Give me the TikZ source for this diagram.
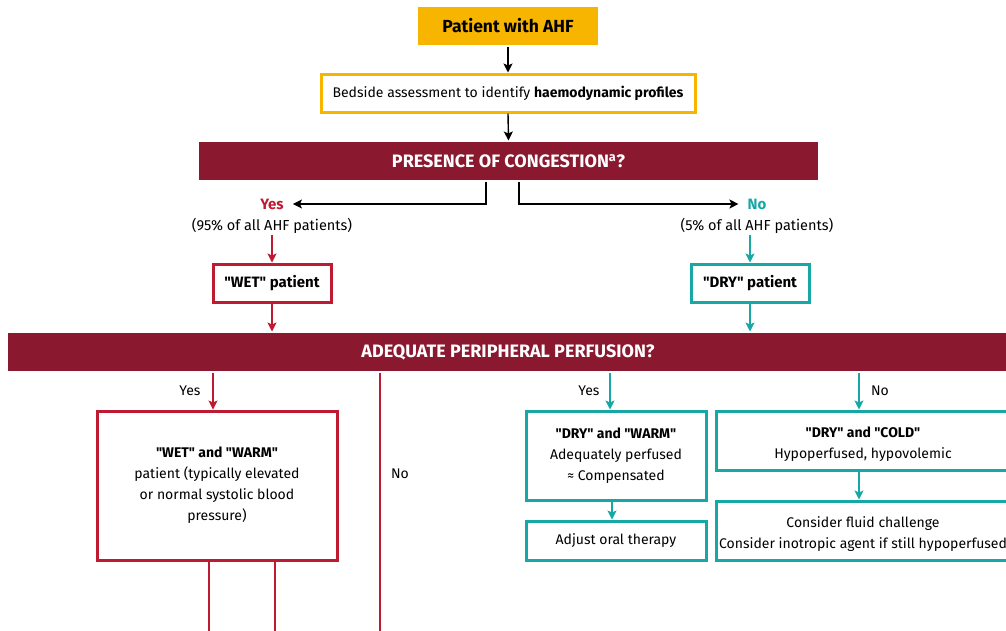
\documentclass[tikz,border=0pt]{standalone}
\usepackage{fontspec}
\setmainfont{Fira Sans}
\usetikzlibrary{arrows.meta}
\definecolor{ahfyellow}{HTML}{F7B500}
\definecolor{barred}{HTML}{8A1930}
\definecolor{wetred}{HTML}{BE1B33}
\definecolor{dryteal}{HTML}{17A8A5}
\newcommand{\dq}{\textquotedbl}
\newcommand{\topstrut}{\rule{0pt}{17pt}}
\tikzset{
  txt/.style={font=\fontsize{14}{21}\selectfont, inner sep=0pt, align=center, text=black},
  boxbase/.style={txt, line width=3pt},
  yfill/.style={boxbase, fill=ahfyellow, font=\fontsize{17.5}{21}\selectfont\bfseries},
  ybox/.style={boxbase, draw=ahfyellow},
  bar/.style={boxbase, fill=barred, text=white, font=\fontsize{18}{21}\selectfont\bfseries},
  rbox/.style={boxbase, draw=wetred},
  tbox/.style={boxbase, draw=dryteal},
  lbl/.style={txt, inner sep=1pt},
  arr/.style={-{Stealth[length=9,width=9,inset=2]}, line width=1.4pt},
  rline/.style={line width=1.4pt, draw=wetred},
}
\begin{document}
\begin{tikzpicture}[x=1pt,y=-1pt]
\useasboundingbox (0,0) rectangle (1006,630);
% top
\node[yfill, minimum width=180, minimum height=38] (start) at (508,26) {Patient with AHF};
\node[ybox, minimum width=374, minimum height=38] (bed) at (508,93) {Bedside assessment to identify \textbf{haemodynamic profiles}};
\node[bar, minimum width=619, minimum height=38] (cong) at (508.5,161) {PRESENCE OF CONGESTION\textsuperscript{a}?};
\draw[arr] (start.south) -- (bed.north);
\draw[arr] (bed.south) -- (cong.north);
% yes / no branches
\node[lbl, text=wetred, font=\fontsize{15}{21}\selectfont\bfseries, inner xsep=9pt] (yes1) at (272,204) {Yes};
\node[lbl, font=\fontsize{14.5}{21}\selectfont] (pct1) at (272,226) {(95\% of all AHF patients)};
\node[lbl, text=dryteal, font=\fontsize{15}{21}\selectfont\bfseries, inner xsep=9pt] (no1) at (757,204) {No};
\node[lbl, font=\fontsize{14.5}{21}\selectfont] (pct2) at (757,226) {(5\% of all AHF patients)};
\draw[arr] ([xshift=-22.5]cong.south) |- (yes1.east);
\draw[arr] ([xshift=10.5]cong.south) |- (no1.west);
\node[rbox, minimum width=118, minimum height=38, font=\fontsize{15}{21}\selectfont\bfseries] (wet) at (272,283) {\dq WET\dq{} patient};
\node[tbox, minimum width=118, minimum height=38, font=\fontsize{15}{21}\selectfont\bfseries] (dry) at (750,283) {\dq DRY\dq{} patient};
\draw[arr, wetred] (pct1.south) -- (wet.north);
\draw[arr, dryteal] (pct2.south -| dry.north) -- (dry.north);
% perfusion bar
\node[bar, minimum width=1000, minimum height=38] (perf) at (508,352) {ADEQUATE PERIPHERAL PERFUSION?};
\draw[arr, wetred] (wet.south) -- (wet.south |- perf.north);
\draw[arr, dryteal] (dry.south) -- (dry.south |- perf.north);
% wet branch
\node[rbox, minimum width=240, minimum height=149] (ww) at (217,485.5) {\textbf{\dq WET\dq{} and \dq WARM\dq}\\patient (typically elevated\\or normal systolic blood\\pressure)};
\draw[arr, wetred] ([xshift=-4]ww.north |- perf.south) -- ([xshift=-4]ww.north);
\node[lbl] (yes2) at (190,391) {Yes};
\coordinate (nobot) at (380,632);
\draw[rline] (perf.south -| nobot) -- (nobot);
\node[lbl] (no2) at (400,474) {No};
\coordinate (wb1) at (209,632);
\coordinate (wb2) at (275,632);
\draw[rline] (ww.south -| wb1) -- (wb1);
\draw[rline] (ww.south -| wb2) -- (wb2);
% dry branch
\node[tbox, minimum width=180, minimum height=89] (dw) at (616,455.5) {\textbf{\dq DRY\dq{} and \dq WARM\dq}\\Adequately perfused\\≈ Compensated};
\node[tbox, minimum width=180, minimum height=39] (adj) at (616,540.5) {Adjust oral therapy};
\node[tbox, minimum width=294, minimum height=59] (dc) at (863,440.5) {\topstrut\textbf{\dq DRY\dq{} and \dq COLD\dq}\\Hypoperfused, hypovolemic};
\node[tbox, minimum width=294, minimum height=59] (cons) at (863,530.5) {\topstrut Consider fluid challenge\\Consider inotropic agent if still hypoperfused};
\draw[arr, dryteal] ([xshift=-6]dw.north |- perf.south) -- ([xshift=-6]dw.north);
\node[lbl] (yes3) at (589,391) {Yes};
\draw[arr, dryteal] ([xshift=-4]dc.north |- perf.south) -- ([xshift=-4]dc.north);
\node[lbl] (no3) at (880,391) {No};
\draw[arr, dryteal] ([xshift=-4]dw.south) -- ([xshift=-4]adj.north);
\draw[arr, dryteal] ([xshift=-4]dc.south) -- ([xshift=-4]cons.north);
\end{tikzpicture}
\end{document}
